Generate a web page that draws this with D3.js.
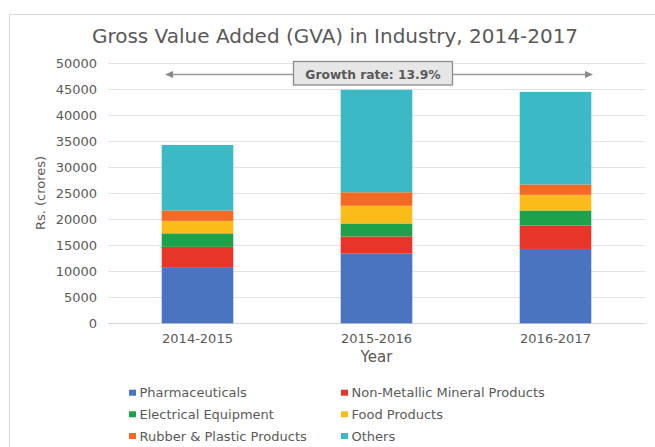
<!DOCTYPE html>
<html lang="en">
<head>
<meta charset="utf-8">
<script src="https://d3js.org/d3.v7.min.js"></script>
<style>
  body { margin: 0; background: #fff; }
  text { font-family: "DejaVu Sans", sans-serif; fill: #595959; }
</style>
</head>
<body>
<script>
// chart data
var years = ["2014-2015", "2015-2016", "2016-2017"];
var series = ["Pharmaceuticals", "Non-Metallic Mineral Products", "Electrical Equipment",
              "Food Products", "Rubber & Plastic Products", "Others"];
var pharma     = [10800, 13400, 14300];
var nonMetal   = [3900, 3300, 4500];
var electrical = [2600, 2500, 2900];
var food       = [2400, 3400, 3000];
var rubber     = [2000, 2600, 2000];
var others     = [12600, 19700, 17800];
var yTicks = [0, 5000, 10000, 15000, 20000, 25000, 30000, 35000, 40000, 45000, 50000];
var colors = ["#4a74bf", "#e8352a", "#1da24b", "#fbbc1a", "#f26a24", "#3bb9c5"];

var allValues = [pharma, nonMetal, electrical, food, rubber, others];
var rows = years.map(function(y, i) {
  var r = { year: y };
  series.forEach(function(s, j) { r[s] = allValues[j][i]; });
  return r;
});

var W = 655, H = 447;
var svg = d3.select("body").append("svg").attr("width", W).attr("height", H);

// chart frame
svg.append("rect")
  .attr("x", 9.5).attr("y", 14.5)
  .attr("width", 700).attr("height", 500)
  .attr("fill", "none").attr("stroke", "#d9d9d9");

var x = d3.scaleBand().domain(years).range([108, 645]).paddingInner(0.6).paddingOuter(0.3);
var y = d3.scaleLinear().domain([0, 50000]).range([323.3, 63.3]);

// gridlines
svg.append("g").selectAll("line").data(yTicks).enter().append("line")
  .attr("x1", 108).attr("x2", 645)
  .attr("y1", function(d) { return Math.round(y(d)) + 0.5; })
  .attr("y2", function(d) { return Math.round(y(d)) + 0.5; })
  .attr("stroke", function(d) { return d === 0 ? "#d4d4d4" : "#e3e3e3"; })
  .attr("stroke-width", 1.2);

// y tick labels
svg.append("g").selectAll("text").data(yTicks).enter().append("text")
  .attr("x", 97).attr("y", function(d) { return y(d); })
  .attr("dy", "0.36em")
  .attr("text-anchor", "end")
  .attr("font-size", 13)
  .text(function(d) { return d; });

// stacked bars
var stack = d3.stack().keys(series);
var layers = stack(rows);
svg.append("g").selectAll("g").data(layers).enter().append("g")
  .attr("fill", function(d, i) { return colors[i]; })
  .selectAll("rect").data(function(d) { return d; }).enter().append("rect")
  .attr("x", function(d) { return x(d.data.year); })
  .attr("width", x.bandwidth())
  .attr("y", function(d) { return y(d[1]); })
  .attr("height", function(d) { return y(d[0]) - y(d[1]); });

// x labels
svg.append("g").selectAll("text").data(years).enter().append("text")
  .attr("x", function(d) { return x(d) + x.bandwidth() / 2; })
  .attr("y", 343)
  .attr("text-anchor", "middle")
  .attr("font-size", 13)
  .text(function(d) { return d; });

svg.append("text")
  .attr("x", 376.5).attr("y", 362)
  .attr("text-anchor", "middle")
  .attr("font-size", 15)
  .text("Year");

svg.append("text")
  .attr("transform", "translate(45,193) rotate(-90)")
  .attr("text-anchor", "middle")
  .attr("font-size", 13)
  .text("Rs. (crores)");

// title
svg.append("text")
  .attr("x", 335).attr("y", 42.5)
  .attr("text-anchor", "middle")
  .attr("font-size", 20)
  .attr("fill", "#555")
  .text("Gross Value Added (GVA) in Industry, 2014-2017");

// growth annotation: double arrow + box
var ay = 74.5;
svg.append("line")
  .attr("x1", 170).attr("x2", 587).attr("y1", ay).attr("y2", ay)
  .attr("stroke", "#9a9a9a").attr("stroke-width", 1.3);
svg.append("path")
  .attr("d", "M165," + ay + "L173," + (ay - 3.5) + "L173," + (ay + 3.5) + "Z")
  .attr("fill", "#8a8a8a");
svg.append("path")
  .attr("d", "M593," + ay + "L585," + (ay - 3.5) + "L585," + (ay + 3.5) + "Z")
  .attr("fill", "#8a8a8a");
svg.append("rect")
  .attr("x", 293.5).attr("y", 61.5).attr("width", 159).attr("height", 23.5)
  .attr("fill", "#e6e6e6").attr("stroke", "#8c8c8c").attr("stroke-width", 1.3);
svg.append("text")
  .attr("x", 373).attr("y", ay).attr("dy", "0.36em")
  .attr("text-anchor", "middle")
  .attr("font-size", 12.3).attr("font-weight", "bold")
  .attr("fill", "#262626")
  .text("Growth rate: 13.9%");

// legend
var legendX = [129, 341];
var legendY = [392.7, 414.3, 436];
var lg = svg.append("g").selectAll("g").data(series).enter().append("g")
  .attr("transform", function(d, i) {
    return "translate(" + legendX[i % 2] + "," + legendY[Math.floor(i / 2)] + ")";
  });
lg.append("rect")
  .attr("x", 0).attr("y", -3).attr("width", 7).attr("height", 6)
  .attr("fill", function(d, i) { return colors[i]; });
lg.append("text")
  .attr("x", 10.5).attr("dy", "0.36em")
  .attr("font-size", 13)
  .text(function(d) { return d; });
</script>
</body>
</html>
